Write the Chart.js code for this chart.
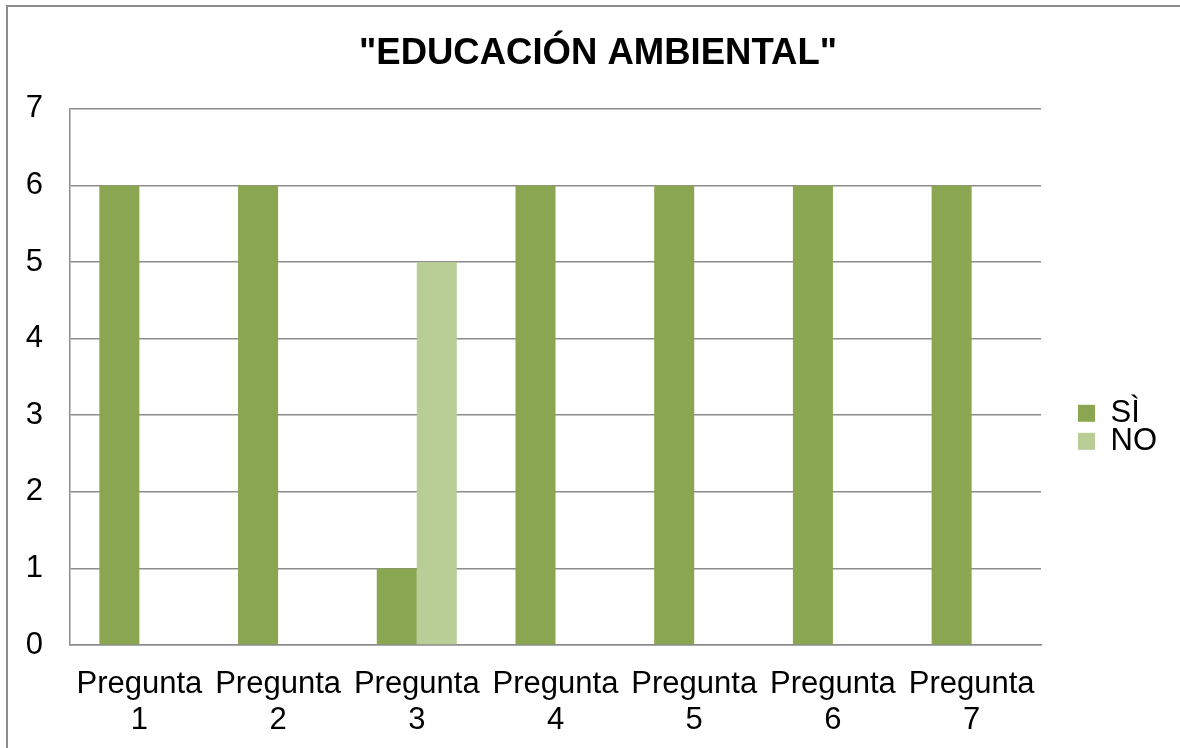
<!DOCTYPE html>
<html>
<head>
<meta charset="utf-8">
<script src="https://cdn.jsdelivr.net/npm/chart.js@4.4.1/dist/chart.umd.min.js"></script>
<style>
    html, body { margin: 0; padding: 0; background: #fff; overflow: hidden; }
    #frame {
        position: absolute; left: 6px; top: 5px; width: 2000px; height: 2000px;
        border-left: 2px solid #8c8c8c; border-top: 2px solid #8c8c8c;
    }
    #wrap { position: absolute; left: 0; top: 0; width: 1180px; height: 748px; }
</style>
</head>
<body>
<div id="frame"></div>
<div id="wrap"><canvas id="chart" width="1180" height="748"></canvas></div>
<script>
(function () {
    'use strict';

    var categories = [
        ['Pregunta', '1'], ['Pregunta', '2'], ['Pregunta', '3'], ['Pregunta', '4'],
        ['Pregunta', '5'], ['Pregunta', '6'], ['Pregunta', '7']
    ];
    var seriesNames = ['S\u00CC', 'NO'];
    var siValues = [6, 6, 1, 6, 6, 6, 6];
    var noValues = [0, 0, 5, 0, 0, 0, 0];
    var yTicks = [0, 1, 2, 3, 4, 5, 6, 7];

    var FONT = '"Liberation Sans", Arial, sans-serif';
    var GRID = '#8c8c8c';

    // move the legend next to the plot, like the original
    var legendPlace = {
        id: 'legendPlace',
        beforeLayout: function (chart) {
            var lg = chart.legend;
            if (lg && !lg._patched) {
                var fit = lg.fit;
                lg.fit = function () {
                    fit.call(this);
                    this.width = 139;
                };
                // no clipping, so the accent on the first label stays visible
                lg.draw = function () {
                    if (this.options.display) this._draw();
                };
                lg._patched = true;
            }
        },
        afterLayout: function (chart) {
            var lg = chart.legend;
            var area = chart.chartArea;
            lg.left = area.right + 40;
            lg.top = area.top + 292;
        }
    };

    new Chart(document.getElementById('chart').getContext('2d'), {
        type: 'bar',
        data: {
            labels: categories,
            datasets: [{
                label: seriesNames[0],
                data: siValues,
                backgroundColor: '#8ba650',
                borderWidth: 0
            }, {
                label: seriesNames[1],
                data: noValues,
                backgroundColor: '#b9cd97',
                borderWidth: 0
            }]
        },
        options: {
            responsive: false,
            animation: false,
            layout: { padding: { left: 16, right: 0, top: 0, bottom: 0 } },
            datasets: {
                bar: { categoryPercentage: 0.577, barPercentage: 1 }
            },
            plugins: {
                title: {
                    display: true,
                    text: '"EDUCACI\u00D3N AMBIENTAL"',
                    color: '#000',
                    font: { family: FONT, size: 36.5, weight: 'bold' },
                    padding: { top: 32, bottom: 33 }
                },
                legend: {
                    position: 'right',
                    align: 'start',
                    labels: {
                        color: '#000',
                        font: { family: FONT, size: 31 },
                        boxWidth: 17,
                        boxHeight: 17,
                        padding: -3
                    }
                },
                tooltip: { enabled: false }
            },
            scales: {
                x: {
                    grid: { display: false },
                    border: { display: true, color: GRID, width: 1.5 },
                    ticks: {
                        color: '#000',
                        font: { family: FONT, size: 31, lineHeight: 1.15 },
                        autoSkip: false,
                        minRotation: 0,
                        maxRotation: 0,
                        padding: 14
                    },
                    afterFit: function (scale) { scale.height = 103; }
                },
                y: {
                    min: 0,
                    max: 7,
                    afterBuildTicks: function (scale) {
                        scale.ticks = yTicks.map(function (v) { return { value: v }; });
                    },
                    grid: { color: GRID, lineWidth: 1.5, drawTicks: false },
                    border: { display: true, color: GRID, width: 1.5 },
                    ticks: {
                        color: '#000',
                        font: { family: FONT, size: 31 },
                        padding: 27
                    },
                    afterFit: function (scale) { scale.width = 54; }
                }
            }
        },
        plugins: [legendPlace]
    });
})();
</script>
</body>
</html>
